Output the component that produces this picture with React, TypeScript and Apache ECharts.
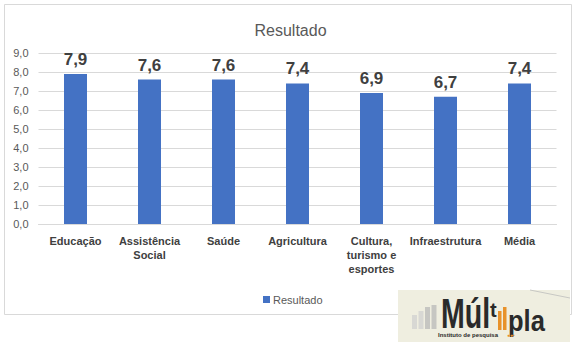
import React, { useEffect, useRef } from "react";
import * as echarts from "echarts";

const categories = [
  "Educação",
  "Assistência\nSocial",
  "Saúde",
  "Agricultura",
  "Cultura,\nturismo e\nesportes",
  "Infraestrutura",
  "Média",
];
const values = [7.9, 7.6, 7.6, 7.4, 6.9, 6.7, 7.4];
const seriesName = "Resultado";
const yTicks = { min: 0, max: 9, interval: 1 };
const logoBars = [14, 18, 22, 24];

export default function App() {
  const ref = useRef<HTMLDivElement>(null);
  useEffect(() => {
    document.body.style.margin = "0";
    const chart = echarts.init(ref.current!, null, { renderer: "svg" });
    const font = "Liberation Sans";
    const narrow = "Liberation Sans Narrow, Liberation Sans";
    chart.setOption({
      animation: false,
      backgroundColor: "#ffffff",
      textStyle: { fontFamily: font },
      title: {
        text: "Resultado",
        left: "center",
        top: 17,
        textStyle: { fontSize: 16, fontWeight: "normal", color: "#595959", fontFamily: font },
      },
      legend: {
        data: [seriesName],
        left: 258,
        top: 289,
        icon: "rect",
        itemWidth: 7,
        itemHeight: 7,
        itemGap: 4,
        textStyle: { fontSize: 11, color: "#595959", fontFamily: font, padding: [0, 0, 0, -2] },
      },
      grid: { left: 38.5, right: 24.5, top: 53, bottom: 128, containLabel: false },
      xAxis: {
        type: "category",
        data: categories,
        axisLine: { show: true, lineStyle: { color: "#d9d9d9" } },
        axisTick: { show: false },
        axisLabel: {
          interval: 0,
          fontSize: 11,
          fontWeight: "bold",
          color: "#404040",
          lineHeight: 14,
          margin: 10,
          fontFamily: font,
        },
      },
      yAxis: {
        type: "value",
        min: yTicks.min,
        max: yTicks.max,
        interval: yTicks.interval,
        axisLine: { show: false },
        axisTick: { show: false },
        splitLine: { lineStyle: { color: "#d9d9d9" } },
        axisLabel: {
          fontSize: 11,
          color: "#595959",
          margin: 10,
          fontFamily: font,
          formatter: (v: number) => v.toFixed(1).replace(".", ","),
        },
      },
      series: [
        {
          name: seriesName,
          type: "bar",
          data: values,
          barWidth: 23,
          itemStyle: { color: "#4472c4" },
          label: {
            show: true,
            position: "top",
            distance: 6,
            fontSize: 17,
            fontWeight: "bold",
            color: "#404040",
            fontFamily: font,
            formatter: (p: any) => Number(p.value).toFixed(1).replace(".", ","),
          },
        },
      ],
      graphic: [
        {
          type: "rect",
          shape: { x: 4.5, y: 4.5, width: 567, height: 310 },
          style: { fill: "none", stroke: "#d9d9d9", lineWidth: 1 },
          silent: true,
        },
        {
          type: "rect",
          shape: { x: 398, y: 290, width: 172, height: 52 },
          style: { fill: "#efeee0" },
          z: 10,
        },
        ...logoBars.map((h, i) => ({
          type: "rect",
          shape: { x: 412 + i * 6.5, y: 329 - h, width: 5, height: h },
          style: { fill: i < 2 ? "#d8d8d4" : "#c6c6c2" },
          z: 11,
        })),
        {
          type: "text",
          x: 441,
          y: 292,
          scaleX: 0.68,
          z: 11,
          style: { text: "Múl", fontSize: 42, fontWeight: "bold", fill: "#2a2a2a", fontFamily: narrow },
        },
        {
          type: "text",
          x: 490,
          y: 300,
          z: 12,
          style: { text: "t", fontSize: 20, fontWeight: "bold", fill: "#2a2a2a", fontFamily: font },
        },
        {
          type: "rect",
          shape: { x: 498, y: 311, width: 3.5, height: 19 },
          style: { fill: "#e8922a" },
          z: 11,
        },
        {
          type: "rect",
          shape: { x: 503, y: 307, width: 3.5, height: 23 },
          style: { fill: "#e8922a" },
          z: 11,
        },
        {
          type: "text",
          x: 508,
          y: 306,
          scaleX: 0.85,
          z: 11,
          style: { text: "pla", fontSize: 30, fontWeight: "bold", fill: "#2a2a2a", fontFamily: narrow },
        },
        {
          type: "text",
          x: 438,
          y: 332,
          z: 11,
          style: { text: "Instituto de pesquisa", fontSize: 6, fontWeight: "bold", fill: "#2a2a2a", fontFamily: font },
        },
        {
          type: "text",
          x: 507,
          y: 332,
          z: 11,
          style: { text: "●●•", fontSize: 5, fill: "#e8922a", fontFamily: font },
        },
        {
          type: "line",
          shape: { x1: 530, y1: 290, x2: 570, y2: 298 },
          style: { stroke: "#c8c8c4", lineWidth: 1 },
          z: 11,
        },
      ],
    });
    return () => chart.dispose();
  }, []);
  return <div ref={ref} style={{ width: 581, height: 352 }} />;
}
